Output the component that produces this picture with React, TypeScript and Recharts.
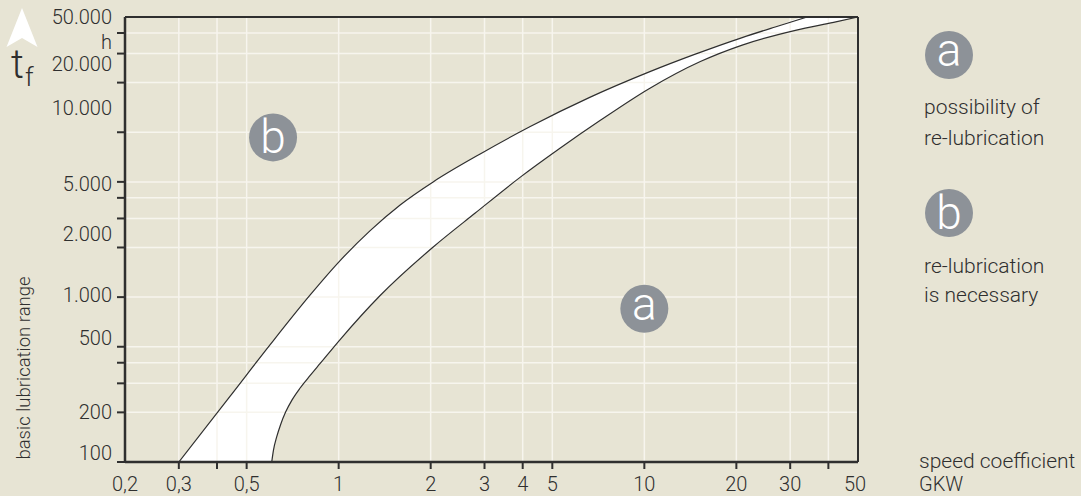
import { ComposedChart, Area, Line, XAxis, YAxis, CartesianGrid, ReferenceLine, ReferenceDot } from 'recharts';

const BG = '#e7e4d4';
const INK = '#2f2f2f';
const GRID = '#f7f5ee';
const BADGE = '#8d9298';
const FONT = 'Roboto, "Liberation Sans", Arial, sans-serif';

// upper (left) limit of the band: speed coefficient GKW vs hours
const upperX = [0.3, 0.441, 0.597, 0.807, 1.011, 1.268, 1.589, 2.043, 2.904, 4.234, 6.654, 10.33, 14.68, 20.9, 26.8, 34.1];
const upperY = [100, 250, 515, 1031, 1665, 2532, 3624, 5017, 7386, 10830, 16330, 23150, 29760, 37520, 43510, 50000];

// lower (right) limit of the band
const lowerX = [0.604, 0.612, 0.627, 0.646, 0.67, 0.704, 0.748, 0.807, 0.87, 1.011, 1.367, 2.043, 2.798, 3.93, 5.31, 7.18, 10.33, 15.25, 20.9, 31.2, 41.6, 50];
const lowerY = [100, 118, 142, 169, 200, 238, 281, 335, 396, 553, 1023, 2021, 3236, 5342, 8024, 11810, 18310, 26850, 33790, 41490, 46410, 50000];

const xTicks = [0.2, 0.3, 0.4, 0.5, 1, 2, 3, 4, 5, 10, 20, 30, 40, 50];
const xTickLabels = ['0,2', '0,3', '', '0,5', '1', '2', '3', '4', '5', '10', '20', '30', '', '50'];

const yTicks = [100, 200, 300, 400, 500, 1000, 2000, 3000, 4000, 5000, 10000, 20000, 30000, 40000, 50000];
const yTickLabels = ['100', '200', '', '', '500', '1.000', '2.000', '', '', '5.000', '10.000', '', '20.000', 'h', '50.000'];
// vertical nudge of each y label against its tick (as printed in the original)
const yLabelShift = [-9, 0, 0, 0, -9, -2, -13, 0, 0, 2, -24, 0, 10, 9, 0];

const upperCurve = upperX.map((x, i) => ({ x, y: upperY[i] }));
const lowerCurve = lowerX.map((x, i) => ({ x, y: lowerY[i] }));
const upperFill = [...upperCurve, lowerCurve[lowerCurve.length - 1]];

const textStyle = { fontFamily: FONT, fontWeight: 300, fill: INK } as const;

function XTick(props: any) {
  const { x, y, payload } = props;
  const i = xTicks.indexOf(payload.value);
  const last = i === xTicks.length - 1;
  return (
    <g>
      {i > 0 && !last && <line x1={x} x2={x} y1={y} y2={y + 7} stroke={INK} strokeWidth={2} />}
      <text x={last ? x - 3 : x} y={y + 22} textAnchor="middle" dominantBaseline="central" fontSize={20} {...textStyle}>
        {xTickLabels[i]}
      </text>
    </g>
  );
}

function YTick(props: any) {
  const { x, y, payload } = props;
  const i = yTicks.indexOf(payload.value);
  const last = i === yTicks.length - 1;
  return (
    <g>
      {!last && <line x1={x - 8} x2={x} y1={y} y2={y} stroke={INK} strokeWidth={2} />}
      <text x={x - 13} y={y + yLabelShift[i]} textAnchor="end" dominantBaseline="central" fontSize={20} {...textStyle}>
        {yTickLabels[i]}
      </text>
    </g>
  );
}

function Badge({ cx, cy, letter }: { cx: number; cy: number; letter: string }) {
  return (
    <g>
      <circle cx={cx} cy={cy} r={24} fill={BADGE} />
      <text
        x={cx}
        y={cy + (letter === 'a' ? 11 : 16)}
        textAnchor="middle"
        fontSize={46}
        fontFamily={FONT}
        fontWeight={300}
        fill="#ffffff"
      >
        {letter}
      </text>
    </g>
  );
}

export default function App() {
  return (
    <div style={{ position: 'relative', width: 1081, height: 496, background: BG }}>
      <style>{`body{margin:0;background:${BG};}`}</style>
      <ComposedChart width={1081} height={496} margin={{ top: 17, right: 223, bottom: 0, left: 0 }}>
        <Area
          data={upperFill}
          dataKey="y"
          type="monotone"
          fill="#ffffff"
          fillOpacity={1}
          stroke="none"
          baseValue="dataMin"
          isAnimationActive={false}
        />
        <Area
          data={lowerCurve}
          dataKey="y"
          type="monotone"
          fill={BG}
          fillOpacity={1}
          stroke="none"
          baseValue="dataMin"
          isAnimationActive={false}
        />
        <CartesianGrid stroke={GRID} strokeWidth={1.5} zIndex={150} />
        <Line data={upperCurve} dataKey="y" type="monotone" stroke={INK} strokeWidth={1.2} dot={false} isAnimationActive={false} />
        <Line data={lowerCurve} dataKey="y" type="monotone" stroke={INK} strokeWidth={1.2} dot={false} isAnimationActive={false} />
        <ReferenceLine y={50000} stroke={INK} strokeWidth={2} />
        <ReferenceLine x={50} stroke={INK} strokeWidth={2} />
        <ReferenceDot x={0.61} y={9300} r={24} shape={(p: any) => <Badge cx={p.cx} cy={p.cy} letter="b" />} />
        <ReferenceDot x={10} y={850} r={24} shape={(p: any) => <Badge cx={p.cx} cy={p.cy} letter="a" />} />
        <XAxis
          dataKey="x"
          type="number"
          scale="log"
          domain={[0.2, 50]}
          ticks={xTicks}
          interval={0}
          allowDataOverflow
          height={34}
          tickSize={0}
          tickMargin={0}
          axisLine={{ stroke: INK, strokeWidth: 2.5 }}
          tickLine={false}
          tick={<XTick />}
        />
        <YAxis
          type="number"
          scale="log"
          domain={[100, 50000]}
          ticks={yTicks}
          interval={0}
          allowDataOverflow
          width={125}
          tickSize={0}
          tickMargin={0}
          axisLine={{ stroke: INK, strokeWidth: 2.5 }}
          tickLine={false}
          tick={<YTick />}
        />
      </ComposedChart>
      <svg width={1081} height={496} style={{ position: 'absolute', left: 0, top: 0, pointerEvents: 'none' }}>
        <polygon points="22,8 37.5,47 22,38 6.5,47" fill="#ffffff" />
        <text x={11} y={78} fontSize={40} {...textStyle}>t</text>
        <text x={25} y={86} fontSize={26} {...textStyle}>f</text>
        <text
          transform="translate(30,368) rotate(-90)"
          textAnchor="middle"
          fontSize={18.5}
          {...textStyle}
        >
          basic lubrication range
        </text>
        <Badge cx={949} cy={55} letter="a" />
        <text x={924} y={107} dominantBaseline="central" fontSize={21} {...textStyle}>possibility of</text>
        <text x={924} y={138} dominantBaseline="central" fontSize={21} {...textStyle}>re-lubrication</text>
        <Badge cx={949} cy={213} letter="b" />
        <text x={924} y={266} dominantBaseline="central" fontSize={21} {...textStyle}>re-lubrication</text>
        <text x={924} y={295} dominantBaseline="central" fontSize={21} {...textStyle}>is necessary</text>
        <text x={919} y={461} dominantBaseline="central" fontSize={21} {...textStyle}>speed coefficient</text>
        <text x={919} y={484} dominantBaseline="central" fontSize={20} {...textStyle}>GKW</text>
      </svg>
    </div>
  );
}
